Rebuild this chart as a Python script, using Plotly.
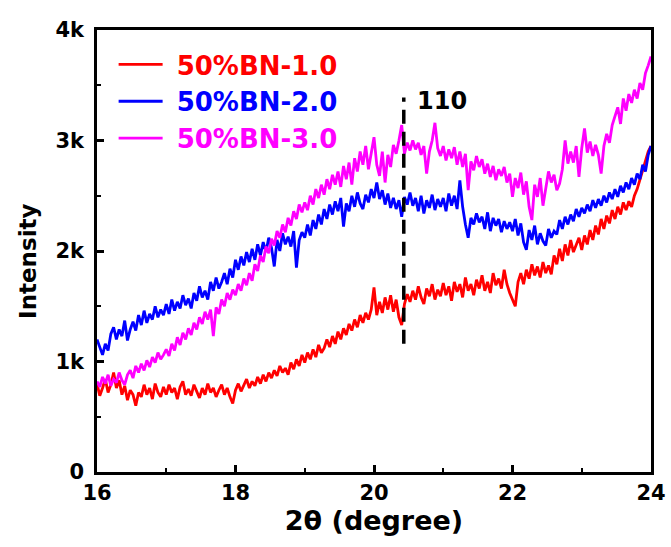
import numpy as np
import plotly.graph_objects as go

# ---- data, 2theta from 16 to 24 step 0.04 ----
x_start, x_end = 16.0, 24.0

red_1 = [800, 690, 760, 840, 720, 790, 900, 760, 830, 700, 780, 650, 740, 700, 600, 720, 680, 790, 700, 760, 660, 800, 720, 680, 770,
         700, 790, 720, 760, 660, 770, 820, 700, 750, 690, 790, 730, 670, 760, 700, 800, 720, 760, 680, 740, 790, 700, 760, 680, 620,
         740, 800, 730, 780, 840, 760, 820, 780, 860, 800, 880, 820, 900, 850, 920, 870, 960, 900, 940, 880, 990, 930, 1020, 960, 1060,
         990, 1080, 1020, 1110, 1040, 1150, 1080, 1120, 1200, 1130, 1230, 1160, 1270, 1200, 1300, 1240, 1340, 1280, 1380, 1310, 1420, 1350, 1440, 1380, 1470,
         1670, 1420, 1540, 1440, 1580, 1470, 1600, 1450, 1560, 1400, 1330, 1520, 1610, 1540, 1640, 1560, 1680, 1580, 1520, 1660, 1590, 1700, 1560, 1650, 1590,
         1710, 1600, 1680, 1550, 1720, 1630, 1700, 1580, 1760, 1640, 1700, 1600, 1740, 1660, 1780, 1640, 1720, 1620, 1800, 1690, 1750, 1660, 1830, 1700, 1620,
         1560, 1500, 1720, 1800, 1700, 1830, 1750, 1880, 1780, 1860, 1760, 1900, 1800, 1870, 1790, 1960, 1880, 2020, 1910, 2060, 1960, 2100, 1990, 2060, 2120,
         2010, 2140, 2060, 2190, 2100, 2230, 2150, 2290, 2200, 2320, 2250, 2370, 2290, 2400, 2330, 2440, 2370, 2450, 2400, 2500, 2560, 2640, 2720, 2820, 2900,
         2950]

blue_2 = [1200, 1120, 1060, 1160, 1100, 1250, 1310, 1200, 1290, 1230, 1370, 1190, 1290, 1360, 1280, 1420, 1330, 1460, 1350, 1430, 1380, 1500, 1400, 1470, 1420,
          1520, 1430, 1560, 1460, 1540, 1480, 1600, 1510, 1570, 1480, 1620, 1550, 1680, 1580, 1640, 1560, 1720, 1640, 1760, 1660, 1720, 1800, 1700, 1840, 1760,
          1920, 1830, 1950, 1870, 1990, 1900, 2020, 1920, 2060, 1960, 2080, 1990, 2120, 2030, 1860, 2100, 2000, 2160, 2060, 2130, 2040, 2180, 1850, 2100, 2170,
          2120, 2240, 2140, 2280, 2200, 2330, 2240, 2380, 2290, 2420, 2330, 2450, 2360, 2480, 2220, 2430, 2360, 2500, 2400, 2530, 2430, 2380, 2510, 2440, 2560,
          2480, 2620, 2470, 2550, 2420, 2520, 2390, 2480, 2380, 2460, 2310, 2490, 2420, 2530, 2410, 2480, 2360, 2500, 2340, 2460, 2390, 2510, 2370, 2470, 2400,
          2480, 2360, 2520, 2410, 2500, 2380, 2640, 2400, 2240, 2120, 2300, 2240, 2340, 2260, 2310, 2200, 2350, 2180, 2300, 2230, 2290, 2170, 2270, 2200, 2260,
          2180, 2290, 2140, 2250, 2080, 2010, 2190, 2100, 2230, 2060, 2160, 2090, 2050, 2200, 2120, 2180, 2150, 2280, 2200, 2310, 2240, 2330, 2270, 2380, 2310,
          2390, 2340, 2420, 2360, 2460, 2390, 2470, 2410, 2500, 2440, 2530, 2470, 2560, 2490, 2590, 2530, 2620, 2560, 2660, 2600, 2700, 2650, 2780, 2720, 2870,
          2950]

magenta_3 = [820, 770, 860, 800, 880, 780, 840, 810, 900, 830, 790, 880, 920, 850, 960, 900, 980, 920, 1010, 950, 1040, 990, 1080, 1020, 1060,
             1110, 1050, 1160, 1100, 1220, 1150, 1260, 1200, 1300, 1240, 1350, 1290, 1400, 1340, 1450, 1380, 1470, 1230, 1490, 1430, 1560, 1500, 1620, 1560, 1650,
             1600, 1700, 1640, 1750, 1690, 1800, 1730, 1880, 1820, 1960, 1900, 2040, 1980, 2110, 2050, 2180, 2120, 2240, 2170, 2300, 2230, 2360, 2290, 2420, 2350,
             2440, 2370, 2500, 2420, 2560, 2480, 2600, 2510, 2650, 2560, 2690, 2600, 2720, 2580, 2770, 2650, 2800, 2600, 2840, 2720, 2900, 2780, 2950, 2740, 2880,
             3030, 2780, 2680, 2900, 2620, 2870, 2760, 2960, 2880, 3000, 3140, 2880, 2980, 2910, 3000, 2920, 2980, 2870, 2950, 2700, 2900, 3000, 3160, 2930, 2860,
             2950, 2820, 2920, 2840, 2940, 2780, 2900, 2760, 2880, 2550, 2810, 2730, 2860, 2760, 2830, 2700, 2790, 2670, 2770, 2640, 2740, 2680, 2760, 2620, 2700,
             2490, 2660, 2570, 2710, 2510, 2630, 2400, 2280, 2600, 2490, 2660, 2410, 2580, 2720, 2620, 2690, 2550, 2610, 2740, 3000, 2790, 2900, 2800, 2950, 2670,
             2930, 3110, 2890, 2990, 2860, 2960, 2870, 2700, 2950, 3060, 2980, 3140, 3210, 3300, 3150, 3380, 3270, 3420, 3340, 3460, 3380, 3520, 3460, 3610, 3680,
             3760]

series_names = ["50%BN-1.0", "50%BN-2.0", "50%BN-3.0"]
series_colors = ["#ff0000", "#0000ff", "#ff00ff"]

y_tick_vals = [0, 1000, 2000, 3000, 4000]
y_tick_text = ["0", "1k", "2k", "3k", "4k"]
x_tick_vals = [16, 18, 20, 22, 24]

peak_x = 20.43
peak_y = [1160, 3390]
peak_label = "110"

FONT = "DejaVu Sans, Arial, sans-serif"

fig = go.Figure()
for ys, name, col in zip([red_1, blue_2, magenta_3], series_names, series_colors):
    xs = np.round(np.linspace(x_start, x_end, len(ys)), 3)
    fig.add_trace(go.Scatter(
        x=xs, y=ys, mode="lines", name=f"<span style='color:{col}'> {name}</span>",
        line=dict(color=col, width=2.8),
    ))

fig.add_trace(go.Scatter(
    x=[peak_x, peak_x], y=peak_y, mode="lines", showlegend=False,
    line=dict(color="black", width=3.5, dash="14px,8px"),
))
fig.add_annotation(x=peak_x, y=peak_y[1], text=f"<b>{peak_label}</b>", showarrow=False,
                   xanchor="left", yanchor="middle", xshift=11, yshift=-4,
                   font=dict(family=FONT, size=24, color="black"))

# y-axis title placed as annotation (slightly below the plot centre, as in the reference)
fig.add_annotation(xref="paper", yref="paper", x=-0.125, y=0.477, text="<b>Intensity</b>",
                   textangle=-90, showarrow=False, xanchor="center", yanchor="middle",
                   font=dict(family=FONT, size=23, color="black"))

axis_common = dict(
    showline=True, linecolor="black", linewidth=2.5, mirror=True,
    ticks="inside", ticklen=7, tickwidth=2.5, tickcolor="black",
    showgrid=False, zeroline=False, automargin=False,
    tickfont=dict(family=FONT, size=21, color="black", weight="bold"),
)

fig.update_xaxes(
    range=[x_start, x_end], tickvals=x_tick_vals,
    minor=dict(ticks="inside", ticklen=4, tickwidth=2, tickcolor="black", dtick=1, showgrid=False),
    title=dict(text="2θ (degree)", font=dict(family=FONT, size=27, color="black", weight="bold"),
               standoff=4),
    **axis_common,
)
fig.update_yaxes(
    range=[0, 4000], tickvals=y_tick_vals, ticktext=y_tick_text,
    minor=dict(ticks="inside", ticklen=4, tickwidth=2, tickcolor="black", dtick=500, showgrid=False),
    ticklabelstandoff=6,
    **axis_common,
)

fig.update_layout(
    width=671, height=547,
    margin=dict(l=97, r=20, t=30, b=75),
    paper_bgcolor="white", plot_bgcolor="white",
    showlegend=True,
    legend=dict(x=0.03, y=0.975, xanchor="left", yanchor="top",
                bgcolor="rgba(0,0,0,0)", borderwidth=0,
                font=dict(family=FONT, size=26, weight="bold"),
                itemwidth=44, tracegroupgap=0),
)

fig.write_html("out.html")
